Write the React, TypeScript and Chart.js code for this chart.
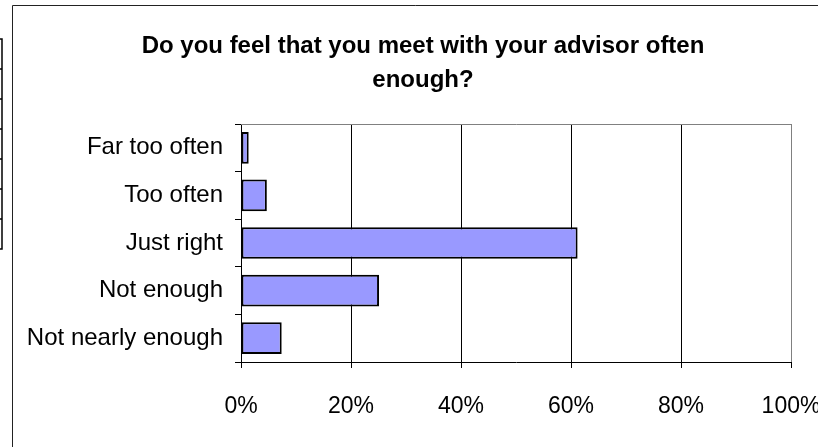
import React, { useEffect, useRef } from "react";
import { Chart, registerables } from "chart.js";

Chart.register(...registerables);

const categories = ["Far too often", "Too often", "Just right", "Not enough", "Not nearly enough"];
const percentages = [1.4, 4.7, 61.2, 25.1, 7.4];
const xTickValues = [0, 20, 40, 60, 80, 100];
const titleLines = ["Do you feel that you meet with your advisor often", "enough?"];

const FONT = "'Liberation Sans', Arial, Helvetica, sans-serif";

const decorPlugin = {
  id: "decor",
  beforeDatasetsDraw(chart: any) {
    const { ctx, chartArea } = chart;
    ctx.save();
    ctx.strokeStyle = "#808080";
    ctx.lineWidth = 1;
    ctx.beginPath();
    ctx.moveTo(chartArea.left, Math.round(chartArea.top) + 0.5);
    ctx.lineTo(Math.round(chartArea.right) + 0.5, Math.round(chartArea.top) + 0.5);
    ctx.lineTo(Math.round(chartArea.right) + 0.5, chartArea.bottom);
    ctx.stroke();
    ctx.restore();
  },
  afterDraw(chart: any) {
    const { ctx, width, height } = chart;
    ctx.save();
    // outer chart box
    ctx.strokeStyle = "#222";
    ctx.lineWidth = 1;
    ctx.beginPath();
    ctx.moveTo(12.5, height);
    ctx.lineTo(12.5, 5.5);
    ctx.lineTo(width, 5.5);
    ctx.stroke();
    // fragment of neighbouring table at the left edge
    ctx.strokeStyle = "#000";
    ctx.lineWidth = 1.5;
    ctx.beginPath();
    ctx.moveTo(2, 39);
    ctx.lineTo(2, 249);
    for (let i = 0; i < 8; i++) {
      const y = 39 + i * 30;
      ctx.moveTo(0, y);
      ctx.lineTo(2.75, y);
    }
    ctx.stroke();
    ctx.restore();
  },
};

export default function App() {
  const ref = useRef<HTMLCanvasElement>(null);

  useEffect(() => {
    document.body.style.margin = "0";
    const canvas = ref.current;
    if (!canvas) return;
    const chart = new Chart(canvas, {
      type: "bar",
      data: {
        labels: categories,
        datasets: [
          {
            data: percentages,
            backgroundColor: "#9999FF",
            borderColor: "#000000",
            borderWidth: 2,
            borderSkipped: false,
            categoryPercentage: 1,
            barPercentage: 0.667,
          },
        ],
      },
      options: {
        indexAxis: "y",
        responsive: false,
        animation: false,
        layout: { padding: { left: 28, right: 0, top: 0, bottom: 0 } },
        plugins: {
          legend: { display: false },
          tooltip: { enabled: false },
          title: {
            display: true,
            text: titleLines,
            color: "#000",
            font: { family: FONT, size: 24, weight: "bold", lineHeight: "34px" },
            padding: { top: 29, bottom: 27 },
          },
        },
        scales: {
          x: {
            type: "linear",
            min: 0,
            max: 100,
            afterFit(scale: any) {
              scale.height = 85;
              scale.paddingRight = 27;
            },
            afterBuildTicks(scale: any) {
              scale.ticks = xTickValues.map((v) => ({ value: v }));
            },
            ticks: {
              color: "#000",
              font: { family: FONT, size: 23, lineHeight: "26px" },
              padding: 26,
              maxRotation: 0,
              callback: (v: any) => v + "%",
            },
            grid: {
              color: (c: any) => (c.tick && c.tick.value === 100 ? "#808080" : "#000000"),
              tickColor: "#000000",
              lineWidth: 1,
              tickLength: 6,
              drawTicks: true,
            },
            border: { color: "#000", width: 1 },
          },
          y: {
            type: "category",
            afterFit(scale: any) {
              scale.width = 213;
            },
            ticks: {
              color: "#000",
              font: { family: FONT, size: 24 },
              padding: 12,
            },
            grid: {
              drawOnChartArea: false,
              drawTicks: true,
              tickLength: 6,
              color: "#000",
              tickColor: "#000",
              offset: true,
            },
            border: { color: "#000", width: 1 },
          },
        },
      },
      plugins: [decorPlugin],
    } as any);
    return () => chart.destroy();
  }, []);

  return (
    <div style={{ width: 818, height: 447, position: "relative" }}>
      <canvas ref={ref} width={818} height={447} style={{ display: "block" }} />
    </div>
  );
}
